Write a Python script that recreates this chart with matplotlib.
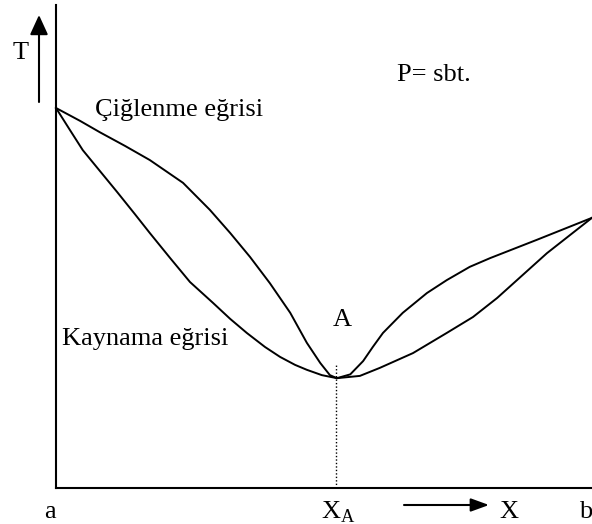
import matplotlib
matplotlib.use("Agg")
import matplotlib.pyplot as plt

# composition (mole fraction of b) and temperature, arbitrary units
dew_x = [0.0, 0.045, 0.082, 0.129, 0.175, 0.237, 0.287, 0.325, 0.362, 0.399,
         0.437, 0.468, 0.493, 0.511, 0.524, 0.549, 0.573, 0.591, 0.610, 0.647,
         0.692, 0.729, 0.772, 0.810, 0.897, 1.0]
dew_T = [100.0, 96.6, 93.6, 90.0, 86.3, 80.3, 73.2, 67.1, 60.8, 53.9,
         46.1, 38.2, 32.9, 29.7, 28.9, 29.9, 33.4, 37.1, 40.8, 46.1,
         51.3, 54.7, 58.2, 60.5, 65.3, 71.1]

boil_x = [0.0, 0.026, 0.050, 0.082, 0.114, 0.147, 0.175, 0.213, 0.250, 0.293,
          0.325, 0.356, 0.390, 0.418, 0.446, 0.468, 0.496, 0.524, 0.567, 0.604,
          0.666, 0.729, 0.778, 0.823, 0.916, 1.0]
boil_T = [100.0, 94.2, 88.9, 83.4, 77.9, 72.1, 67.1, 60.5, 54.2, 48.7,
          44.5, 40.8, 37.1, 34.5, 32.4, 31.1, 29.7, 28.9, 29.5, 31.6,
          35.5, 40.8, 45.0, 50.0, 61.8, 71.1]

x_azeo = 0.522
T_azeo = 32.9
T_top = 127.1

W, H = 592, 524
serif = ["Liberation Serif", "DejaVu Serif"]


def fpos(px, py):
    """pixel position measured from the top-left -> figure fraction"""
    return px / W, 1 - py / H


fig = plt.figure(figsize=(W / 100, H / 100), dpi=100)
ax = fig.add_axes([56 / W, 36 / H, 1 - 56 / W, 483 / H])
ax.set_xlim(0, 1)
ax.set_ylim(0, T_top)
for side in ("top", "right"):
    ax.spines[side].set_visible(False)
for side in ("left", "bottom"):
    ax.spines[side].set_linewidth(1.5)
ax.set_xticks([])
ax.set_yticks([])
ax.patch.set_alpha(0)

ax.plot(dew_x, dew_T, color="black", lw=1.4, solid_joinstyle="round", clip_on=False)
ax.plot(boil_x, boil_T, color="black", lw=1.4, solid_joinstyle="round", clip_on=False)
ax.plot([x_azeo, x_azeo], [0, T_azeo], color="black", lw=1.0, ls=(0, (1, 1.5)))

fs = 19
labels = [
    ((21, 53), "T", "center"),
    ((397, 75), "P= sbt.", "left"),
    ((95, 110), "Çiğlenme eğrisi", "left"),
    ((62, 339), "Kaynama eğrisi", "left"),
    ((342, 320), "A", "center"),
    ((338, 512), r"X$_\mathregular{A}$", "center"),
    ((50, 512), "a", "center"),
    ((509, 512), "X", "center"),
    ((592, 512), "b", "right"),
]
for pos, txt, ha in labels:
    ax.text(*fpos(*pos), txt, transform=fig.transFigure, family=serif, fontsize=fs,
            ha=ha, va="center")

t_arrow = dict(arrowstyle="-|>,head_length=1.2,head_width=0.55", color="black", lw=1.5,
               shrinkA=0, shrinkB=0)
x_arrow = dict(arrowstyle="-|>,head_length=1.1,head_width=0.4", color="black", lw=1.5,
               shrinkA=0, shrinkB=0)
ax.annotate("", xy=fpos(39, 15), xytext=fpos(39, 102), xycoords="figure fraction",
            textcoords="figure fraction", arrowprops=t_arrow)
ax.annotate("", xy=fpos(489, 505), xytext=fpos(404, 505), xycoords="figure fraction",
            textcoords="figure fraction", arrowprops=x_arrow)

fig.savefig("out.png", dpi=100)
